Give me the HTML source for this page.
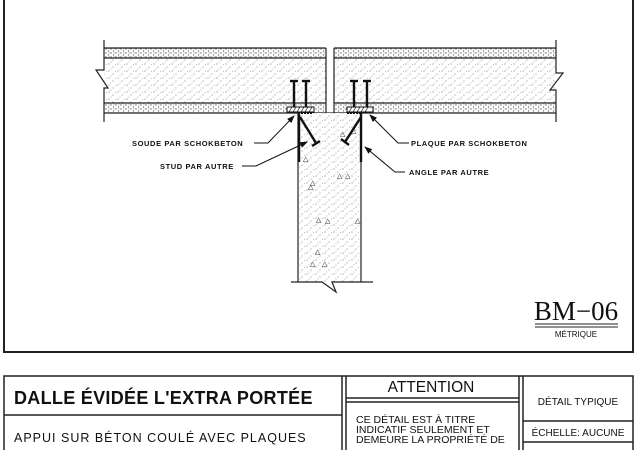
<!DOCTYPE html>
<html><head><meta charset="utf-8"><style>
html,body{margin:0;padding:0;background:#fff;width:638px;height:450px;overflow:hidden}
svg{display:block}
text{font-family:"Liberation Sans",sans-serif;fill:#111}
</style></head><body>
<svg width="638" height="450" viewBox="0 0 638 450" xmlns="http://www.w3.org/2000/svg">
<defs>
<pattern id="dots" width="9" height="7" patternUnits="userSpaceOnUse">
<rect width="9" height="7" fill="#fff"/>
<circle cx="1" cy="1" r="0.6" fill="#888"/><circle cx="5" cy="4" r="0.6" fill="#999"/><circle cx="7.5" cy="1.5" r="0.5" fill="#aaa"/><circle cx="3" cy="6" r="0.5" fill="#999"/>
</pattern>
<pattern id="dense" width="5" height="4" patternUnits="userSpaceOnUse">
<rect width="5" height="4" fill="#fff"/>
<circle cx="1" cy="1" r="0.7" fill="#666"/><circle cx="3.5" cy="3" r="0.7" fill="#777"/><circle cx="4" cy="0.7" r="0.5" fill="#888"/>
</pattern>
<marker id="ar" markerWidth="8" markerHeight="6" refX="7" refY="3" orient="auto" markerUnits="userSpaceOnUse"><path d="M0,0 L8,3 L0,6 z" fill="#111"/></marker>
</defs>
<polyline points="4,0 4,352 633,352 633,0" fill="none" stroke="#222" stroke-width="2"/>
<rect x="104" y="48" width="222" height="65" fill="url(#dots)"/>
<rect x="334" y="48" width="222" height="65" fill="url(#dots)"/>
<rect x="104" y="48" width="222" height="10" fill="url(#dense)"/>
<rect x="334" y="48" width="222" height="10" fill="url(#dense)"/>
<rect x="104" y="103" width="222" height="10" fill="url(#dense)"/>
<rect x="334" y="103" width="222" height="10" fill="url(#dense)"/>
<g stroke="#222" stroke-width="1.2" fill="none">
<line x1="104" y1="48" x2="326" y2="48"/><line x1="104" y1="58" x2="326" y2="58"/>
<line x1="104" y1="103" x2="326" y2="103"/><line x1="104" y1="113" x2="326" y2="113"/>
<line x1="334" y1="48" x2="556" y2="48"/><line x1="334" y1="58" x2="556" y2="58"/>
<line x1="334" y1="103" x2="556" y2="103"/><line x1="334" y1="113" x2="556" y2="113"/>
<line x1="326" y1="48" x2="326" y2="113"/><line x1="334" y1="48" x2="334" y2="113"/>
<polyline points="104,40 104,70 96,70 108,88 104,88 104,122"/>
<polyline points="556,40 556,73 563,73 550,90 556,90 556,122"/>
<line x1="326" y1="113" x2="334" y2="113"/>
</g>
<rect x="298" y="113" width="63" height="169" fill="url(#dots)"/>
<g stroke="#222" stroke-width="1.2" fill="none">
<line x1="298" y1="113" x2="298" y2="282"/><line x1="361" y1="113" x2="361" y2="282"/>
<polyline points="291,282 322,282 336,292 332,282 373,282"/>
</g>
<g font-size="7" fill="#222">
<text x="340" y="136">△</text><text x="351" y="133">△</text><text x="303" y="161">△</text>
<text x="308" y="189">△</text><text x="337" y="178">△</text><text x="345" y="178">△</text><text x="310" y="185">△</text>
<text x="316" y="222">△</text><text x="325" y="223">△</text><text x="315" y="254">△</text><text x="310" y="266">△</text><text x="322" y="266">△</text><text x="355" y="223">△</text>
</g>
<g stroke="#111" stroke-width="2.4" fill="none">
<line x1="294" y1="82" x2="294" y2="109"/><line x1="306" y1="82" x2="306" y2="109"/>
<line x1="354" y1="82" x2="354" y2="109"/><line x1="367" y1="82" x2="367" y2="109"/>
<line x1="290" y1="81" x2="298" y2="81"/><line x1="302" y1="81" x2="310" y2="81"/>
<line x1="350" y1="81" x2="358" y2="81"/><line x1="363" y1="81" x2="371" y2="81"/>
<line x1="300" y1="117" x2="316" y2="143"/><line x1="312" y1="146" x2="320" y2="141"/>
<line x1="361" y1="117" x2="345" y2="142"/><line x1="341" y1="139" x2="349" y2="145"/>
<line x1="299" y1="113" x2="299" y2="162"/><line x1="361" y1="113" x2="361" y2="162"/>
</g>
<rect x="287" y="107" width="27" height="5" fill="#fff" stroke="#111" stroke-width="1"/>
<rect x="347" y="107" width="26" height="5" fill="#fff" stroke="#111" stroke-width="1"/>
<g stroke="#111" stroke-width="0.7"><path d="M289,112 l3,-5 M293,112 l3,-5 M297,112 l3,-5 M301,112 l3,-5 M305,112 l3,-5 M309,112 l3,-5 M349,112 l3,-5 M353,112 l3,-5 M357,112 l3,-5 M361,112 l3,-5 M365,112 l3,-5"/></g>
<line x1="298" y1="113" x2="312" y2="113" stroke="#111" stroke-width="2" stroke-dasharray="2,1"/>
<line x1="347" y1="113" x2="361" y2="113" stroke="#111" stroke-width="2" stroke-dasharray="2,1"/>
<g stroke="#111" stroke-width="1" fill="none">
<polyline points="254,143 268,143 294,116" marker-end="url(#ar)"/>
<polyline points="242,166 256,166 307,142" marker-end="url(#ar)"/>
<polyline points="409,143 398,143 370,115" marker-end="url(#ar)"/>
<polyline points="405,172 395,172 365,147" marker-end="url(#ar)"/>
</g>
<g font-size="7.5" font-weight="bold" style="letter-spacing:0.6px">
<text x="132" y="146">SOUDE PAR SCHOKBETON</text>
<text x="160" y="169">STUD PAR AUTRE</text>
<text x="411" y="146">PLAQUE PAR SCHOKBETON</text>
<text x="409" y="175">ANGLE PAR AUTRE</text>
</g>
<text x="576" y="320" font-size="27" text-anchor="middle" style="font-family:'Liberation Serif',serif">BM−06</text>
<line x1="535" y1="324" x2="618" y2="324" stroke="#222" stroke-width="1"/>
<line x1="535" y1="327" x2="618" y2="327" stroke="#222" stroke-width="1"/>
<text x="576" y="337" font-size="8" text-anchor="middle">MÉTRIQUE</text>
<g stroke="#222" stroke-width="1.5" fill="none">
<polyline points="4,452 4,376 633,376 633,452"/>
<line x1="342" y1="376" x2="342" y2="452"/><line x1="346" y1="376" x2="346" y2="452"/>
<line x1="519" y1="376" x2="519" y2="452"/><line x1="523" y1="376" x2="523" y2="452"/>
<line x1="4" y1="415" x2="342" y2="415"/>
<line x1="346" y1="398" x2="519" y2="398"/><line x1="346" y1="402" x2="519" y2="402"/>
<line x1="523" y1="421" x2="633" y2="421"/><line x1="523" y1="442" x2="633" y2="442"/>
</g>
<text x="14" y="404" font-size="18" font-weight="bold" style="letter-spacing:0.3px">DALLE ÉVIDÉE L'EXTRA PORTÉE</text>
<text x="14" y="442" font-size="12.5" style="letter-spacing:1px">APPUI SUR BÉTON COULÉ AVEC PLAQUES</text>
<text x="431" y="392" font-size="15.5" text-anchor="middle">ATTENTION</text>
<g font-size="10.5"><text x="356" y="423">CE DÉTAIL EST À TITRE</text><text x="356" y="433">INDICATIF SEULEMENT ET</text><text x="356" y="443">DEMEURE LA PROPRIÉTÉ DE</text></g>
<text x="578" y="405" font-size="10" text-anchor="middle">DÉTAIL TYPIQUE</text>
<text x="578" y="436" font-size="10" text-anchor="middle">ÉCHELLE: AUCUNE</text>
</svg>
</body></html>
